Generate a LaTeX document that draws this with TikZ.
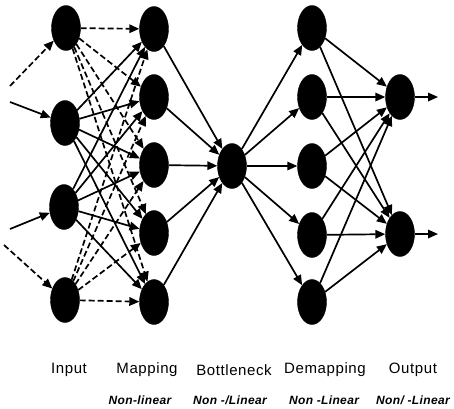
\documentclass[tikz,border=0pt]{standalone}
\usepackage{fontspec}
\setmainfont{Liberation Sans}
\usetikzlibrary{shapes.geometric,arrows.meta}
\begin{document}
\begin{tikzpicture}[x=1pt,y=-1pt,
  neuron/.style={ellipse,fill=black,draw=black,minimum width=29pt,minimum height=45pt,inner sep=0pt},
  conn/.style={line width=1.7pt,-{Triangle[length=10pt,width=8.5pt]}},
  dconn/.style={conn,dash pattern=on 6pt off 3pt},
  lab/.style={font=\fontsize{15}{17}\selectfont\addfontfeatures{LetterSpace=4},anchor=center},
  sub/.style={font=\fontsize{12}{14}\selectfont\bfseries\itshape\addfontfeatures{LetterSpace=3},anchor=center}]
\useasboundingbox (0,0) rectangle (454,408);
% input layer
\node[neuron] (i1) at (66,28) {};
\node[neuron] (i2) at (65,123) {};
\node[neuron] (i3) at (64,207) {};
\node[neuron] (i4) at (65,300) {};
% mapping
\node[neuron] (m1) at (154,29) {};
\node[neuron] (m2) at (154,97) {};
\node[neuron] (m3) at (154,165) {};
\node[neuron] (m4) at (154,233) {};
\node[neuron] (m5) at (154,302) {};
% bottleneck
\node[neuron] (b) at (232,166) {};
% demapping
\node[neuron] (d1) at (312,28) {};
\node[neuron] (d2) at (312,97) {};
\node[neuron] (d3) at (312,166) {};
\node[neuron] (d4) at (312,235) {};
\node[neuron] (d5) at (312,302) {};
% output
\node[neuron] (o1) at (400,97) {};
\node[neuron] (o2) at (400,234) {};
% free ends
\coordinate (s1) at (10,86);
\coordinate (s2) at (10,102);
\coordinate (s3) at (10,229);
\coordinate (s4) at (4,245);
\coordinate (e1) at (438,97);
\coordinate (e2) at (438,234);
% input arrows
\draw[dconn] (s1) -- (i1);
\draw[conn] (s2) -- (i2);
\draw[conn] (s3) -- (i3);
\draw[dconn] (s4) -- (i4);
% input -> mapping
\foreach \m in {m1,m2,m3,m4,m5}{
  \draw[dconn] (i1) -- (\m);
  \draw[conn] (i2) -- (\m);
  \draw[conn] (i3) -- (\m);
  \draw[dconn] (i4) -- (\m);
  \draw[conn] (\m) -- (b);
}
\foreach \d in {d1,d2,d3,d4,d5}{
  \draw[conn] (b) -- (\d);
  \draw[conn] (\d) -- (o1);
  \draw[conn] (\d) -- (o2);
}
\draw[conn] (o1) -- (e1);
\draw[conn] (o2) -- (e2);
% labels
\node[lab] (t1) at (69,370) {Input};
\node[lab] (t2) at (147,370) {Mapping};
\node[lab] (t3) at (234,370) {Bottleneck};
\node[lab] (t4) at (325,370) {Demapping};
\node[lab] (t5) at (413,370) {Output};
\node[sub] (u1) at (140,400) {Non-linear};
\node[sub] (u2) at (230,400) {Non -/Linear};
\node[sub] (u3) at (324,400) {Non -Linear};
\node[sub] (u4) at (413,400) {Non/ -Linear};
\end{tikzpicture}
\end{document}
